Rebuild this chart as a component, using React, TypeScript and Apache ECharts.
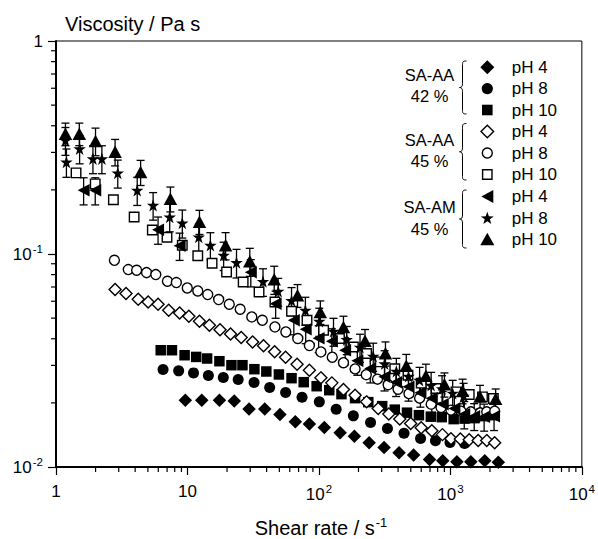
import React, { useEffect, useRef } from "react";
import * as echarts from "echarts";

const FONT = "'Liberation Sans', Arial, Helvetica, sans-serif";

// ---- Tick labels / axis structure ----
const X_MIN = 1;
const X_MAX = 10000;
const Y_MIN = 0.01;
const Y_MAX = 1;
const MINOR_MULTS = [2, 3, 4, 5, 6, 7, 8, 9];
const X_DECADES = [1, 10, 100, 1000];
const Y_DECADES = [0.01, 0.1];

// ---- SA-AA 42 % ----
const aa42pH4X = [9.63, 12.85, 17.5, 22.7, 29.4, 38.7, 50.5, 66.1, 84.6, 109.9, 145, 186, 241, 313, 407, 525, 694, 875, 1121, 1431, 1825, 2316];
const aa42pH4Y = [0.0206, 0.0206, 0.0206, 0.0204, 0.0187, 0.0187, 0.01765, 0.0163, 0.0159, 0.01534, 0.01447, 0.01396, 0.013, 0.01235, 0.01166, 0.01137, 0.01085, 0.01069, 0.01058, 0.01058, 0.01069, 0.01054];

const aa42pH8X = [6.52, 8.57, 11.12, 14.43, 18.74, 24.32, 32.1, 42.2, 55.8, 74.4, 100.7, 135.3, 182.8, 247, 332, 444, 593, 770, 993, 1282];
const aa42pH8Y = [0.0287, 0.02827, 0.02766, 0.0269, 0.02633, 0.02577, 0.02494, 0.02362, 0.02239, 0.02128, 0.02022, 0.01869, 0.01738, 0.01619, 0.01517, 0.01442, 0.01362, 0.01327, 0.01304, 0.0129];

const aa42pH10X = [6.26, 7.62, 9.51, 11.65, 14.11, 17.5, 21.6, 26.2, 32.3, 39.8, 49.6, 61.9, 76.6, 96.1, 119.8, 148.4, 188.4, 237.4, 302.8, 377.6, 467.7, 576.3, 710, 860, 1059, 1282, 1526, 1816, 2160];
const aa42pH10Y = [0.03534, 0.03534, 0.03348, 0.03287, 0.03231, 0.03138, 0.03006, 0.03006, 0.02879, 0.02808, 0.02719, 0.02612, 0.02502, 0.02395, 0.02294, 0.02198, 0.02105, 0.02016, 0.01931, 0.01859, 0.01799, 0.01751, 0.01723, 0.01714, 0.01678, 0.01687, 0.01696, 0.01733, 0.01751];

// ---- SA-AA 45 % ----
const aa45pH4X = [2.815, 3.408, 4.221, 5.022, 5.976, 7.198, 8.715, 10.25, 12.34, 14.69, 17.69, 21.27, 25.63, 31.29, 37.89, 46.04, 55.76, 68.2, 84.6, 103.5, 125.4, 153.7, 188.4, 230.4, 282.4, 340.2, 411.9, 498.8, 599.8, 722.5, 870.1, 1010, 1190, 1391, 1627, 1890, 2172];
const aa45pH4Y = [0.06808, 0.06521, 0.06131, 0.05955, 0.05809, 0.05444, 0.05288, 0.05103, 0.04834, 0.04631, 0.04411, 0.0421, 0.04054, 0.03867, 0.0371, 0.03477, 0.03277, 0.03039, 0.02849, 0.02621, 0.02483, 0.02312, 0.02174, 0.02022, 0.01883, 0.01774, 0.01681, 0.01601, 0.0153, 0.01478, 0.01419, 0.01356, 0.01352, 0.01342, 0.01333, 0.0133, 0.01301];

const aa45pH8X = [2.781, 3.547, 4.105, 4.884, 5.742, 7.04, 8.231, 9.965, 11.98, 14.26, 17.27, 20.8, 25.18, 30.86, 37.11, 46.28, 56.05, 69.04, 84.6, 103.5, 126.3, 153.7, 188.4, 229.2, 279, 336.1, 399.9, 484.2, 583.2, 713.9, 849.2, 1010, 1203, 1431, 1685, 1890, 2172];
const aa45pH8Y = [0.09342, 0.08451, 0.08387, 0.08177, 0.08003, 0.07447, 0.07343, 0.06928, 0.06706, 0.0645, 0.06111, 0.05809, 0.05503, 0.05065, 0.04887, 0.04546, 0.04306, 0.0401, 0.03717, 0.03469, 0.03277, 0.03088, 0.02888, 0.02713, 0.02585, 0.02435, 0.02319, 0.0221, 0.02105, 0.01972, 0.01903, 0.01849, 0.01829, 0.01815, 0.01795, 0.01815, 0.01829];

const aa45pH10X = [1.421, 1.988, 2.733, 3.93, 5.404, 6.99, 9.135, 11.98, 15.39, 19.84, 26.53, 35.04, 46.28, 61.88, 81.18, 108.5, 143.3, 182.9, 230.4, 290.9, 377.6, 475.9, 599.8, 778.3, 1102, 1391, 1754, 2123];
const aa45pH10Y = [0.2404, 0.2135, 0.1799, 0.1491, 0.1296, 0.1198, 0.1099, 0.09808, 0.09046, 0.08233, 0.0739, 0.06634, 0.05955, 0.05385, 0.04887, 0.04386, 0.0401, 0.03662, 0.0341, 0.03114, 0.02894, 0.02698, 0.02475, 0.02337, 0.02253, 0.02191, 0.02135, 0.02098];

// ---- SA-AM 45 % (with error bars) ----
const am45pH4X = [1.622, 1.988, 5.976, 8.715, 30.33, 46.85, 64.42, 79.33, 99.48, 125.4, 158.3, 196, 245.8, 315.1, 386.2, 480.1, 591.6, 722.5, 874.7, 1072, 1275, 1518, 1806, 2149];
const am45pH4Y = [0.199, 0.199, 0.1301, 0.1093, 0.08207, 0.0584, 0.04887, 0.04434, 0.04024, 0.03896, 0.03534, 0.03155, 0.02901, 0.02655, 0.02502, 0.02378, 0.02229, 0.02105, 0.01972, 0.01883, 0.0177, 0.01733, 0.01723, 0.01733];
const am45pH4Err = [0.029, 0.029, 0.019, 0.016, 0.012, 0.0085, 0.0071, 0.0064, 0.0058, 0.0056, 0.0051, 0.0046, 0.0042, 0.0038, 0.0036, 0.0034, 0.0032, 0.0031, 0.0029, 0.0027, 0.0026, 0.0025, 0.0025, 0.0025];

const am45pH8X = [1.18, 1.2, 1.512, 1.91, 2.234, 2.95, 4.148, 5.48, 7.327, 9.135, 12.19, 14.94, 18.84, 23.61, 37.56, 49.0, 61.9, 78.9, 100.7, 129.1, 162.7, 205.4, 258.9, 316.2, 388.1, 480.1, 583.2, 713.9, 864.3, 1041, 1260];
const am45pH8Y = [0.3415, 0.2701, 0.312, 0.2802, 0.2802, 0.2399, 0.199, 0.1692, 0.1491, 0.1398, 0.1202, 0.1099, 0.09861, 0.09115, 0.07423, 0.06684, 0.06045, 0.05444, 0.04834, 0.04339, 0.03968, 0.0365, 0.03313, 0.03055, 0.02817, 0.02669, 0.02556, 0.02422, 0.02332, 0.02222, 0.02151];
const am45pH8Err = [0.051, 0.041, 0.047, 0.042, 0.042, 0.036, 0.03, 0.025, 0.022, 0.021, 0.018, 0.016, 0.015, 0.014, 0.011, 0.01, 0.0091, 0.0082, 0.0073, 0.0065, 0.006, 0.0055, 0.005, 0.0046, 0.0042, 0.004, 0.0038, 0.0036, 0.0035, 0.0033, 0.0032];

const am45pH10X = [1.18, 1.504, 1.998, 2.815, 4.401, 7.417, 12.34, 19.5, 29.8, 45.7, 68.7, 102.5, 153.7, 224.1, 320.7, 461.9, 651, 901, 1238, 1680, 2210];
const am45pH10Y = [0.3671, 0.3671, 0.3396, 0.3021, 0.2424, 0.1819, 0.1419, 0.1099, 0.09243, 0.0761, 0.06401, 0.05346, 0.04546, 0.03917, 0.03421, 0.02989, 0.02684, 0.02447, 0.02282, 0.02144, 0.02093];
const am45pH10Err = [0.0445, 0.0445, 0.0503, 0.0429, 0.0327, 0.0243, 0.0184, 0.0161, 0.0139, 0.0115, 0.00785, 0.00675, 0.00557, 0.00504, 0.00444, 0.00388, 0.00355, 0.00318, 0.00302, 0.00273, 0.00231];

// ---- Legend texts ----
const GROUP_LABELS = [
  ["SA-AA", "42 %"],
  ["SA-AA", "45 %"],
  ["SA-AM", "45 %"],
];
const PH_LABELS = ["pH 4", "pH 8", "pH 10"];

const STAR_PATH =
  "path://M50,0 L61.2,34.5 L97.6,34.5 L68.2,55.9 L79.4,90.5 L50,69.1 L20.6,90.5 L31.8,55.9 L2.4,34.5 L38.8,34.5 Z";

function pairs(xs: number[], ys: number[]) {
  return xs.map((x, i) => [x, ys[i]]);
}
function errData(xs: number[], ys: number[], es: number[]) {
  return xs.map((x, i) => [x, ys[i] - es[i], ys[i] + es[i]]);
}

function errorSeries(name: string, data: number[][]) {
  return {
    type: "custom",
    name,
    data,
    silent: true,
    encode: { x: 0, y: [1, 2] },
    renderItem: (params: any, api: any) => {
      const x = api.value(0);
      const lo = api.value(1);
      const hi = api.value(2);
      const top = api.coord([x, hi]);
      const bot = api.coord([x, lo]);
      const w = 4;
      const st = { stroke: "#000", lineWidth: 1.3 };
      return {
        type: "group",
        children: [
          { type: "line", shape: { x1: top[0], y1: top[1], x2: bot[0], y2: bot[1] }, style: st },
          { type: "line", shape: { x1: top[0] - w, y1: top[1], x2: top[0] + w, y2: top[1] }, style: st },
          { type: "line", shape: { x1: bot[0] - w, y1: bot[1], x2: bot[0] + w, y2: bot[1] }, style: st },
        ],
      };
    },
  };
}

function minorTickSeries(axis: "x" | "y") {
  const vals: number[] = [];
  const decades = axis === "x" ? X_DECADES : Y_DECADES;
  decades.forEach((d) => MINOR_MULTS.forEach((m) => vals.push(d * m)));
  const data = vals.map((v) => (axis === "x" ? [v, Y_MIN] : [X_MIN, v]));
  return {
    type: "custom",
    name: "minor-" + axis,
    data,
    silent: true,
    clip: false,
    encode: { x: 0, y: 1 },
    renderItem: (params: any, api: any) => {
      const p = api.coord([api.value(0), api.value(1)]);
      const len = 5;
      const shape =
        axis === "x"
          ? { x1: p[0], y1: p[1], x2: p[0], y2: p[1] + len }
          : { x1: p[0] - len, y1: p[1], x2: p[0], y2: p[1] };
      return { type: "line", shape, style: { stroke: "#000", lineWidth: 1.2 } };
    },
  };
}

function supLabel(v: number) {
  const e = Math.round(Math.log10(v));
  if (e === 0) return "1";
  if (e === 1) return "10";
  return "10{sup|" + e + "}";
}

function bracePath(y0: number, y1: number) {
  const xt = 466.5;
  const xl = 462.5;
  const xp = 459.5;
  const ym = (y0 + y1) / 2;
  return (
    `M${xt},${y0} C${xl},${y0} ${xl},${y0 + 1} ${xl},${y0 + 5} L${xl},${ym - 4} ` +
    `C${xl},${ym - 1} ${xl - 1},${ym} ${xp},${ym} C${xl - 1},${ym} ${xl},${ym + 1} ${xl},${ym + 4} ` +
    `L${xl},${y1 - 5} C${xl},${y1 - 1} ${xl},${y1} ${xt},${y1}`
  );
}

function starPoints(cx: number, cy: number, R: number, r: number) {
  const pts: number[][] = [];
  for (let i = 0; i < 10; i++) {
    const a = -Math.PI / 2 + (i * Math.PI) / 5;
    const rad = i % 2 === 0 ? R : r;
    pts.push([cx + rad * Math.cos(a), cy + rad * Math.sin(a)]);
  }
  return pts;
}

export default function App() {
  const ref = useRef<HTMLDivElement>(null);

  useEffect(() => {
    if (!ref.current) return;
    const braces = [
      [61, 114],
      [123.5, 180],
      [190, 248],
    ];
    braces.forEach((b, i) => {
      echarts.graphic.registerShape("brace" + i, echarts.graphic.extendPath(bracePath(b[0], b[1]), {}) as any);
    });

    const chart = echarts.init(ref.current, undefined, { renderer: "svg" });

    const black = { color: "#000", opacity: 1 };
    const open = { color: "#fff", borderColor: "#000", borderWidth: 1.4, opacity: 1 };

    const legendCx = 487.3;
    const legendTextX = 511.7;
    const rowY = [67.3, 88.6, 110, 131.5, 153, 174.5, 196.5, 218, 239.3];
    const legendMarkers: any[] = [];
    const mk = (i: number) => {
      const cy = rowY[i];
      const cx = legendCx;
      switch (i) {
        case 0:
          return { type: "polygon", shape: { points: [[cx, cy - 7], [cx + 7, cy], [cx, cy + 7], [cx - 7, cy]] }, style: { fill: "#000" } };
        case 1:
          return { type: "circle", shape: { cx, cy, r: 5.6 }, style: { fill: "#000" } };
        case 2:
          return { type: "rect", shape: { x: cx - 5.3, y: cy - 5.3, width: 10.6, height: 10.6 }, style: { fill: "#000" } };
        case 3:
          return { type: "polygon", shape: { points: [[cx, cy - 6.3], [cx + 6.3, cy], [cx, cy + 6.3], [cx - 6.3, cy]] }, style: { fill: "#fff", stroke: "#000", lineWidth: 1.4 } };
        case 4:
          return { type: "circle", shape: { cx, cy, r: 5 }, style: { fill: "#fff", stroke: "#000", lineWidth: 1.4 } };
        case 5:
          return { type: "rect", shape: { x: cx - 4.7, y: cy - 4.7, width: 9.4, height: 9.4 }, style: { fill: "#fff", stroke: "#000", lineWidth: 1.4 } };
        case 6:
          return { type: "polygon", shape: { points: [[cx - 6, cy], [cx + 6, cy - 6.5], [cx + 6, cy + 6.5]] }, style: { fill: "#000" } };
        case 7:
          return { type: "polygon", shape: { points: starPoints(cx, cy + 0.5, 6.8, 2.7) }, style: { fill: "#000" } };
        default:
          return { type: "polygon", shape: { points: [[cx, cy - 6.5], [cx + 7, cy + 6], [cx - 7, cy + 6]] }, style: { fill: "#000" } };
      }
    };
    for (let i = 0; i < 9; i++) {
      legendMarkers.push(mk(i));
      legendMarkers.push({
        type: "text",
        x: legendTextX,
        y: rowY[i],
        style: {
          text: PH_LABELS[i % 3],
          fontSize: 17,
          fontFamily: FONT,
          fill: "#000",
          textVerticalAlign: "middle",
          verticalAlign: "middle",
        },
      });
    }
    const groupY = [
      [75, 96],
      [139.7, 160.5],
      [207, 229.3],
    ];
    GROUP_LABELS.forEach((g, i) => {
      g.forEach((t, j) => {
        legendMarkers.push({
          type: "text",
          x: 429.5,
          y: groupY[i][j],
          style: {
            text: t,
            fontSize: 16.5,
            fontFamily: FONT,
            fill: "#000",
            textAlign: "center",
            align: "center",
            textVerticalAlign: "middle",
            verticalAlign: "middle",
          },
        });
      });
      legendMarkers.push({
        type: "brace" + i,
        style: { stroke: "#000", fill: null, lineWidth: 1 },
      });
    });

    const supRich = {
      sup: { fontSize: 11.5, fontFamily: FONT, color: "#000", padding: [0, 0, 10, 1] },
    };

    const option: any = {
      animation: false,
      backgroundColor: "#fff",
      textStyle: { fontFamily: FONT },
      grid: {
        left: 56,
        right: 13,
        top: 41,
        bottom: 72,
        show: true,
        borderColor: "#000",
        borderWidth: 1,
        backgroundColor: "transparent",
      },
      xAxis: {
        type: "log",
        logBase: 10,
        min: X_MIN,
        max: X_MAX,
        axisLine: { show: true, lineStyle: { color: "#000", width: 2 } },
        axisTick: { show: true, inside: false, length: 8, lineStyle: { color: "#000", width: 1.2 } },
        splitLine: { show: false },
        axisLabel: {
          formatter: supLabel,
          fontSize: 17,
          fontFamily: FONT,
          color: "#000",
          margin: 16,
          rich: supRich,
        },
      },
      yAxis: {
        type: "log",
        logBase: 10,
        min: Y_MIN,
        max: Y_MAX,
        axisLine: { show: true, lineStyle: { color: "#000", width: 2 } },
        axisTick: { show: true, inside: false, length: 8, lineStyle: { color: "#000", width: 1.2 } },
        splitLine: { show: false },
        axisLabel: {
          formatter: supLabel,
          fontSize: 17,
          fontFamily: FONT,
          color: "#000",
          margin: 13,
          rich: supRich,
        },
      },
      graphic: [
        {
          type: "text",
          x: 65,
          y: 24,
          style: {
            text: "Viscosity / Pa s",
            fontSize: 20,
            fontFamily: FONT,
            fill: "#000",
            textVerticalAlign: "middle",
            verticalAlign: "middle",
          },
        },
        {
          type: "text",
          x: 321,
          y: 528,
          style: {
            text: "Shear rate / s{sup|-1}",
            fontSize: 20,
            fontFamily: FONT,
            fill: "#000",
            textAlign: "center",
            align: "center",
            textVerticalAlign: "middle",
            verticalAlign: "middle",
            rich: {
              sup: { fontSize: 13, fontFamily: FONT, fill: "#000", padding: [0, 0, 12, 1] },
            },
          },
        },
        ...legendMarkers,
      ],
      series: [
        minorTickSeries("x"),
        minorTickSeries("y"),
        { type: "scatter", name: "SA-AA 42% pH 4", data: pairs(aa42pH4X, aa42pH4Y), symbol: "diamond", symbolSize: 13.5, itemStyle: black, silent: true },
        { type: "scatter", name: "SA-AA 42% pH 8", data: pairs(aa42pH8X, aa42pH8Y), symbol: "circle", symbolSize: 11, itemStyle: black, silent: true },
        { type: "scatter", name: "SA-AA 42% pH 10", data: pairs(aa42pH10X, aa42pH10Y), symbol: "rect", symbolSize: 10.5, itemStyle: black, silent: true },
        { type: "scatter", name: "SA-AA 45% pH 4", data: pairs(aa45pH4X, aa45pH4Y), symbol: "diamond", symbolSize: 12, itemStyle: open, silent: true },
        { type: "scatter", name: "SA-AA 45% pH 8", data: pairs(aa45pH8X, aa45pH8Y), symbol: "circle", symbolSize: 10, itemStyle: open, silent: true },
        { type: "scatter", name: "SA-AA 45% pH 10", data: pairs(aa45pH10X, aa45pH10Y), symbol: "rect", symbolSize: 9.5, itemStyle: open, silent: true },
        errorSeries("err AM pH 4", errData(am45pH4X, am45pH4Y, am45pH4Err)),
        errorSeries("err AM pH 8", errData(am45pH8X, am45pH8Y, am45pH8Err)),
        errorSeries("err AM pH 10", errData(am45pH10X, am45pH10Y, am45pH10Err)),
        { type: "scatter", name: "SA-AM 45% pH 4", data: pairs(am45pH4X, am45pH4Y), symbol: "triangle", symbolRotate: 90, symbolSize: [12.5, 12], itemStyle: black, silent: true },
        { type: "scatter", name: "SA-AM 45% pH 8", data: pairs(am45pH8X, am45pH8Y), symbol: STAR_PATH, symbolSize: 12.5, itemStyle: black, silent: true },
        { type: "scatter", name: "SA-AM 45% pH 10", data: pairs(am45pH10X, am45pH10Y), symbol: "triangle", symbolSize: [13.5, 12.5], itemStyle: black, silent: true },
      ],
    };

    chart.setOption(option);
    return () => chart.dispose();
  }, []);

  return (
    <div
      ref={ref}
      style={{ position: "fixed", left: 0, top: 0, width: 598, height: 539, background: "#fff" }}
    />
  );
}
